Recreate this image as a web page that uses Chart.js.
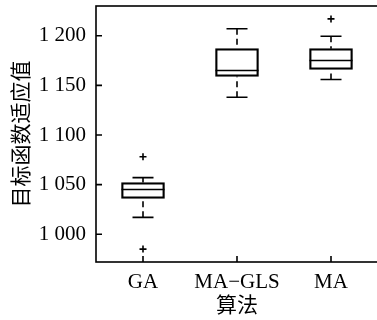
<!DOCTYPE html>
<html>
<head>
<meta charset="utf-8">
<script src="https://cdn.jsdelivr.net/npm/chart.js@4/dist/chart.umd.min.js"></script>
<style>
  html, body { margin: 0; padding: 0; background: #fff; overflow: hidden; }
  canvas { display: block; }
</style>
</head>
<body>
<canvas id="boxChart" width="381" height="320"></canvas>
<script>
// data
const algorithms = ['GA', 'MA−GLS', 'MA'];
const whiskerLow = [1017, 1138, 1156];
const q1 = [1036, 1159, 1166];
const median = [1045, 1165, 1175];
const q3 = [1052, 1187, 1187];
const whiskerHigh = [1057, 1207, 1199.5];
const outlierAlg = ['GA', 'GA', 'MA'];
const outlierVal = [1078, 985, 1217];
const yTicks = [1000, 1050, 1100, 1150, 1200];

const serif = '"Liberation Serif", "DejaVu Serif", serif';
const cjk = '"Noto Sans CJK SC", sans-serif';

// whiskers, medians, frame and inward tick marks
const boxExtras = {
  id: 'boxExtras',
  afterDatasetsDraw(chart) {
    const { ctx, scales: { x, y } } = chart;
    const boxW = 43, capW = 21;
    ctx.save();
    ctx.strokeStyle = '#000';
    ctx.lineWidth = 1.6;
    algorithms.forEach((a, i) => {
      const px = x.getPixelForValue(i);
      // dashed whiskers
      ctx.setLineDash([6, 4]);
      ctx.beginPath();
      ctx.moveTo(px, y.getPixelForValue(whiskerHigh[i]));
      ctx.lineTo(px, y.getPixelForValue(q3[i]));
      ctx.moveTo(px, y.getPixelForValue(whiskerLow[i]));
      ctx.lineTo(px, y.getPixelForValue(q1[i]));
      ctx.stroke();
      ctx.setLineDash([]);
      // caps
      ctx.beginPath();
      [whiskerHigh[i], whiskerLow[i]].forEach(v => {
        const py = y.getPixelForValue(v);
        ctx.moveTo(px - capW / 2, py);
        ctx.lineTo(px + capW / 2, py);
      });
      // median
      const my = y.getPixelForValue(median[i]);
      ctx.moveTo(px - boxW / 2, my);
      ctx.lineTo(px + boxW / 2, my);
      ctx.stroke();
    });
    ctx.restore();
  },
  afterDraw(chart) {
    const { ctx, chartArea: a, scales: { x, y } } = chart;
    ctx.save();
    ctx.strokeStyle = '#000';
    ctx.lineWidth = 1.6;
    ctx.strokeRect(a.left, a.top, a.right - a.left, a.bottom - a.top);
    ctx.beginPath();
    y.ticks.forEach(t => {
      const py = y.getPixelForValue(t.value);
      ctx.moveTo(a.left, py);
      ctx.lineTo(a.left + 6, py);
    });
    algorithms.forEach((c, i) => {
      const px = x.getPixelForValue(i);
      ctx.moveTo(px, a.bottom);
      ctx.lineTo(px, a.bottom - 6);
    });
    ctx.stroke();
    ctx.restore();
  }
};

// keep chart.js from shrinking the plot for label overhang
function noPad(scale) {
  scale.paddingTop = 0;
  scale.paddingBottom = 0;
  scale.paddingLeft = 0;
  scale.paddingRight = 0;
}

const ctx = document.getElementById('boxChart').getContext('2d');
new Chart(ctx, {
  type: 'bar',
  data: {
    labels: algorithms,
    datasets: [
      {
        label: 'box',
        data: q1.map((v, i) => [v, q3[i]]),
        backgroundColor: 'rgba(255,255,255,0)',
        borderColor: '#000',
        borderWidth: 1.6,
        borderSkipped: false,
        barThickness: 43
      },
      {
        type: 'line',
        label: 'outliers',
        data: outlierVal.map((v, i) => ({ x: outlierAlg[i], y: v })),
        showLine: false,
        pointStyle: 'cross',
        pointRadius: 3.5,
        pointBorderWidth: 1.6,
        pointBorderColor: '#000'
      }
    ]
  },
  options: {
    responsive: false,
    animation: false,
    layout: { autoPadding: false, padding: { top: 6, right: 3, left: 0, bottom: 0 } },
    plugins: {
      legend: { display: false },
      tooltip: { enabled: false }
    },
    scales: {
      x: {
        grid: { display: false, drawTicks: false },
        border: { display: false },
        ticks: { color: '#000', padding: 8, font: { family: serif, size: 21 } },
        title: { display: true, text: '算法', color: '#000', padding: { top: 0, bottom: 3 }, font: { family: cjk, size: 21 } },
        afterFit(scale) { scale.height = 58; noPad(scale); }
      },
      y: {
        min: 972,
        max: 1230,
        grid: { display: false, drawTicks: false },
        border: { display: false },
        ticks: {
          color: '#000',
          padding: 10,
          font: { family: serif, size: 21 },
          callback: v => String(v).replace(/\B(?=(\d{3})+(?!\d))/g, ' ')
        },
        afterBuildTicks(scale) { scale.ticks = yTicks.map(v => ({ value: v })); },
        title: { display: true, text: '目标函数适应值', color: '#000', padding: { top: 7, bottom: 0 }, font: { family: cjk, size: 21 } },
        afterFit(scale) { scale.width = 96; noPad(scale); }
      }
    }
  },
  plugins: [boxExtras]
});
</script>
</body>
</html>
